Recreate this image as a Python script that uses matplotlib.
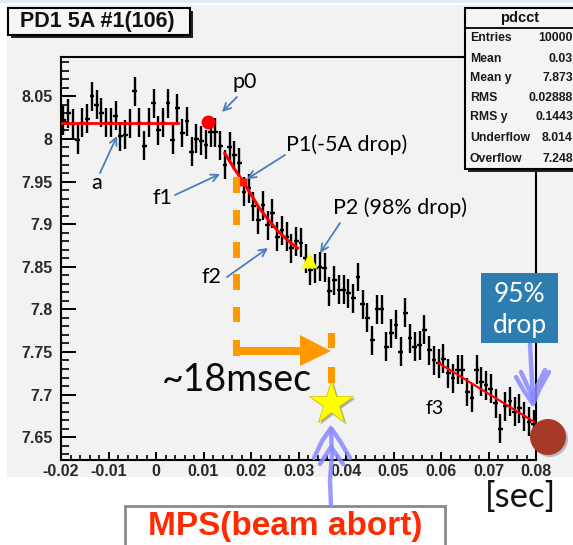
import matplotlib
matplotlib.use("Agg")
import matplotlib.pyplot as plt
from matplotlib.patches import Rectangle, Polygon, Circle
from matplotlib.ticker import FixedLocator, MultipleLocator
import numpy as np

# ---------------- data ----------------
bin_start = -0.0195
bin_width = 0.001
pdcct_values = [
    8.022, 8.030, 8.018, 7.999, 8.019, 8.024, 8.050, 8.040, 8.031, 8.019,
    8.019, 8.027, 8.003, 8.005, 8.018, 8.056, 8.019, 7.992, 8.019, 8.042,
    8.010, 8.019, 8.042, 7.999, 8.036, 8.007, 8.021, 7.985, 8.000, 7.998,
    7.993, 8.008, 8.008, 7.992, 7.970, 7.991, 7.981, 7.972, 7.938, 7.942,
    7.921, 7.905, 7.922, 7.899, 7.913, 7.885, 7.893, 7.885, 7.872, 7.880,
    7.878, 7.860, 7.846, 7.848, 7.850, 7.849, 7.821, 7.834, 7.823, 7.823,
    7.819, 7.813, 7.838, 7.806, 7.790, 7.764, 7.800, 7.800, 7.756, 7.772,
    7.782, 7.750, 7.796, 7.766, 7.756, 7.758, 7.776, 7.752, 7.740, 7.737,
    7.742, 7.725, 7.719, 7.729, 7.729, 7.703, 7.696, 7.729, 7.715, 7.711,
    7.707, 7.690, 7.660, 7.686, 7.692, 7.680, 7.684, 7.674, 7.668, 7.665,
]
pdcct_err = 0.017

fit_a_x = [-0.020, 0.0046]
fit_a_y = [8.019, 8.019]
fit_f1_x = [0.0145, 0.0165, 0.0183, 0.0200, 0.0215, 0.0235, 0.0255, 0.0275, 0.0298]
fit_f1_y = [7.983, 7.965, 7.950, 7.935, 7.921, 7.906, 7.893, 7.882, 7.872]
fit_f3_x = [0.0595, 0.0796]
fit_f3_y = [7.737, 7.668]

p0_point = (0.0110, 8.0196)
p1_point = (0.0183, 7.950)
p2_point = (0.0323, 7.858)
mps_point = (0.0369, 7.690)

x_ticks = [-0.02, -0.01, 0.0, 0.01, 0.02, 0.03, 0.04, 0.05, 0.06, 0.07, 0.08]
x_tick_labels = ["-0.02", "-0.01", "0", "0.01", "0.02", "0.03", "0.04",
                 "0.05", "0.06", "0.07", "0.08"]
y_ticks = [7.65, 7.70, 7.75, 7.80, 7.85, 7.90, 7.95, 8.00, 8.05]
y_tick_labels = ["7.65", "7.7", "7.75", "7.8", "7.85", "7.9", "7.95", "8", "8.05"]

stats_title = "pdcct"
stats_names = ["Entries", "Mean", "Mean y", "RMS", "RMS y", "Underflow", "Overflow"]
stats_vals = ["10000", "0.03", "7.873", "0.02888", "0.1443", "8.014", "7.248"]

# ---------------- figure ----------------
W, H = 573, 545
fig = plt.figure(figsize=(W / 100, H / 100), dpi=100)
fig.patch.set_facecolor("white")
CANVAS = "#f2f2f2"
fig.add_artist(Rectangle((7 / W, 1 - 477 / H), 1 - 7 / W, (477 - 5) / H,
                         transform=fig.transFigure, facecolor=CANVAS,
                         edgecolor="none", zorder=-10))
fig.add_artist(Rectangle((0, 1 - 3 / H), 1, 3 / H, transform=fig.transFigure,
                         facecolor="#e2ebf1", edgecolor="none", zorder=-9))

L, R, T, B = 61, 536, 57, 460
ax = fig.add_axes([L / W, 1 - B / H, (R - L) / W, (B - T) / H])
ax.set_facecolor(CANVAS)
ax.set_xlim(-0.02, 0.08)
ax.set_ylim(7.6232, 8.0962)
for s in ax.spines.values():
    s.set_linewidth(1.5)
    s.set_color("black")

x_centers = bin_start + bin_width * np.arange(len(pdcct_values))
ax.errorbar(x_centers, pdcct_values, yerr=pdcct_err, xerr=bin_width / 2,
            fmt="none", ecolor="black", elinewidth=1.7, capsize=0, zorder=3)

ax.plot(fit_a_x, fit_a_y, color="#ff0000", lw=2.0, zorder=4)
ax.plot(fit_f1_x, fit_f1_y, color="#ff0000", lw=2.2, zorder=4)
ax.plot(fit_f3_x, fit_f3_y, color="#ff0000", lw=1.6, zorder=4)

ax.plot(*p0_point, "o", color="#ff0000", ms=10, mec="none", zorder=5)
ax.plot(*p1_point, "s", color="#ff1a00", ms=6, mec="none", zorder=5)
ax.plot(*p2_point, "^", color="#ffff00", ms=11, mec="none", zorder=5)

ax.xaxis.set_major_locator(FixedLocator(x_ticks))
ax.xaxis.set_minor_locator(MultipleLocator(0.002))
ax.yaxis.set_major_locator(FixedLocator(y_ticks))
ax.yaxis.set_minor_locator(MultipleLocator(0.01))
tick_font = dict(family="Liberation Sans", weight="bold", size=11.5, color="#2a2a2a")
ax.set_xticklabels(x_tick_labels, **tick_font)
ax.set_yticklabels(y_tick_labels, **tick_font)
ax.tick_params(axis="x", which="major", direction="in", length=6, width=1.4, pad=3)
ax.tick_params(axis="x", which="minor", direction="in", length=3.5, width=1.2)
ax.tick_params(axis="y", which="major", direction="in", length=11, width=1.4, pad=6)
ax.tick_params(axis="y", which="minor", direction="in", length=5.5, width=1.2)
ax.tick_params(top=False, right=False, which="both")

# ---------------- overlay in pixel coordinates ----------------
ov = fig.add_axes([0, 0, 1, 1], zorder=10)
ov.set_xlim(0, W)
ov.set_ylim(H, 0)
ov.axis("off")
ov.patch.set_visible(False)

def box(x0, y0, x1, y1, fc, ec="black", lw=1.5, z=5, shadow=0):
    if shadow:
        ov.add_patch(Rectangle((x0 + shadow, y0 + shadow), x1 - x0, y1 - y0,
                               facecolor="#222222", edgecolor="none", zorder=z - 0.5))
    ov.add_patch(Rectangle((x0, y0), x1 - x0, y1 - y0, facecolor=fc,
                           edgecolor=ec, lw=lw, zorder=z))

# title box
box(8, 8, 190, 35, "#f6f6f6", shadow=3)
ov.text(97, 22, "PD1 5A #1(106)", ha="center", va="center", family="Liberation Sans",
        weight="bold", size=15.5, color="#111111", zorder=6)

# stats box
box(465, 8, 578, 169, "#f4f4f4", shadow=3)
ov.plot([465, 578], [28, 28], color="black", lw=1.3, zorder=6)
ov.text(520, 18, stats_title, ha="center", va="center", family="Liberation Sans",
        weight="bold", size=10.5, color="#111111", zorder=6)
row_y = [38, 59, 78, 98, 117, 138, 159]
for yy, nm, vv in zip(row_y, stats_names, stats_vals):
    ov.text(470, yy, nm, ha="left", va="center", family="Liberation Sans",
            weight="bold", size=8.8, color="#1a1a1a", zorder=6)
    ov.text(573, yy, vv, ha="right", va="center", family="Liberation Sans",
            weight="bold", size=8.8, color="#1a1a1a", zorder=6)

# blue annotation arrows
ABLUE = "#4a7ebb"
ann_font = dict(family="Lato", size=15.5, color="black")
arrows = [((237, 97), (222, 112)), ((100, 173), (117, 136)), ((175, 195), (220, 174)),
          ((285, 155), (247, 179)), ((227, 277), (268, 248)), ((340, 223), (320, 253))]
for tail, tip in arrows:
    ov.annotate("", xy=tip, xytext=tail,
                arrowprops=dict(arrowstyle="->", color=ABLUE, lw=1.3,
                                shrinkA=0, shrinkB=0, mutation_scale=13), zorder=7)
ov.text(245, 82, "p0", ha="center", va="center", **ann_font)
ov.text(97, 183, "a", ha="center", va="center", **ann_font)
ov.text(162, 198, "f1", ha="center", va="center", **ann_font)
ov.text(347, 145, "P1(-5A drop)", ha="center", va="center", **ann_font)
ov.text(211, 277, "f2", ha="center", va="center", **ann_font)
ov.text(400, 208, "P2 (98% drop)", ha="center", va="center", **ann_font)
ov.text(435, 408, "f3", ha="center", va="center", family="Lato", size=14, color="black")

# orange timing marks
ORANGE = "#ff9900"
for y0, y1 in [(177, 193), (210, 225), (242, 258), (274, 290), (307, 322), (340, 356)]:
    ov.add_patch(Rectangle((233, y0), 7, y1 - y0, facecolor=ORANGE, edgecolor="none", zorder=6))
ov.add_patch(Rectangle((233, 347), 70, 8, facecolor=ORANGE, edgecolor="none", zorder=6))
ov.add_patch(Polygon([(300, 335), (331, 351), (300, 366)], closed=True,
                     facecolor=ORANGE, edgecolor="none", zorder=6))
for y0, y1 in [(333, 348), (367, 383)]:
    ov.add_patch(Rectangle((328, y0), 7, y1 - y0, facecolor=ORANGE, edgecolor="none", zorder=6))
ov.text(237, 380, "~18msec", ha="center", va="center", family="Lato",
        size=27, color="#0a0a0a", zorder=7)

# star (MPS)
ax_star_x, ax_star_y = mps_point
ax.plot(ax_star_x + 0.0004, ax_star_y - 0.0025, "*", ms=33, color="#555555", alpha=0.45,
        mec="none", zorder=8, clip_on=False)
ax.plot(ax_star_x, ax_star_y, "*", ms=33, color="#ffff00", mec="#d8c800", mew=0.6,
        zorder=9, clip_on=False)

# hand-drawn lavender arrows
LAV = "#8a8aff"
hand = dict(color=LAV, lw=3.2, alpha=0.85, solid_capstyle="round", solid_joinstyle="round", zorder=8)
ov.plot([331, 330, 332, 331], [506, 480, 455, 430], **hand)
ov.plot([314, 322, 331, 340, 350], [458, 441, 428, 441, 458], **hand)
ov.plot([320, 331, 343], [464, 447, 464], **hand)
ov.plot([530, 531, 532, 533], [344, 362, 382, 402], **hand)
ov.plot([516, 524, 533, 540, 549], [377, 391, 404, 388, 372], **hand)
ov.plot([521, 532, 545], [372, 396, 370], **hand)

# 95% drop box
ov.add_patch(Rectangle((481, 273), 77, 70, facecolor="#2e7db0", edgecolor="none", zorder=9))
ov.text(519.5, 295, "95%", ha="center", va="center", family="Lato", size=19, color="white", zorder=10)
ov.text(519.5, 325, "drop", ha="center", va="center", family="Lato", size=19, color="white", zorder=10)

# brown end circle
ov.add_patch(Circle((550, 439), 18, facecolor="#555555", alpha=0.35, edgecolor="none", zorder=8))
ov.add_patch(Circle((548, 437), 18, facecolor="#a63a27", edgecolor="none", zorder=9))

# [sec] label
ov.text(520, 497, "[sec]", ha="center", va="center", family="Lato", size=25, color="#111111", zorder=7)

# MPS box
ov.add_patch(Rectangle((125, 506), 320, 45, facecolor="white", edgecolor="#8a8a8a", lw=2, zorder=7))
ov.text(285, 526, "MPS(beam abort)", ha="center", va="center", family="Liberation Sans",
        weight="bold", size=24, color="#ff2a00", zorder=8)

fig.savefig("out.png", dpi=100)
